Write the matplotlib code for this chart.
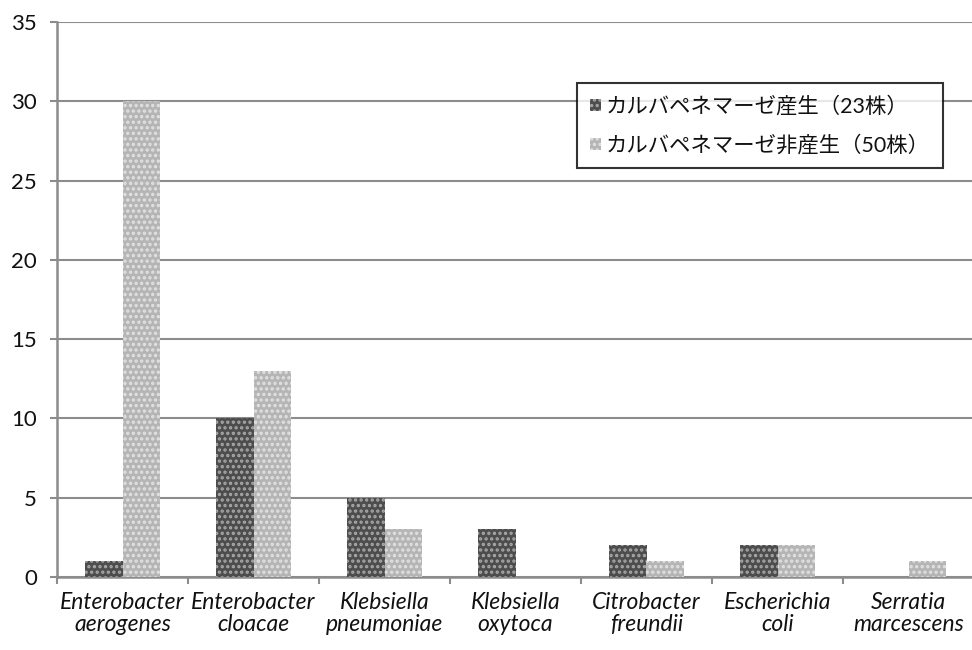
import matplotlib
matplotlib.use("Agg")
import matplotlib.pyplot as plt
import numpy as np
from matplotlib.ticker import FixedLocator, NullFormatter

plt.rcParams['font.family'] = ['Lato', 'Noto Sans CJK JP', 'DejaVu Sans']
plt.rcParams['hatch.linewidth'] = 1.6

categories = ["Enterobacter\naerogenes", "Enterobacter\ncloacae", "Klebsiella\npneumoniae",
              "Klebsiella\noxytoca", "Citrobacter\nfreundii", "Escherichia\ncoli",
              "Serratia\nmarcescens"]
producing = [1, 10, 5, 3, 2, 2, 0]
non_producing = [30, 13, 3, 0, 1, 2, 1]
series_labels = ["カルバペネマーゼ産生（23株）", "カルバペネマーゼ非産生（50株）"]
y_ticks = [0, 5, 10, 15, 20, 25, 30, 35]

fig = plt.figure(figsize=(9.72, 6.5), dpi=100)
ax = fig.add_axes([57/972, 1 - 577/650, (974 - 57)/972, (577 - 22)/650])

x = np.arange(len(categories))
w = 0.29
ax.bar(x - w/2, producing, width=w, color='#4d4d4d', edgecolor='#a8a8a8',
       hatch='...', linewidth=0, label=series_labels[0], zorder=3)
ax.bar(x + w/2, non_producing, width=w, color='#b5b5b5', edgecolor='#e2e2e2',
       hatch='...', linewidth=0, label=series_labels[1], zorder=3)

ax.set_xlim(-0.5, len(categories) - 0.5)
ax.set_ylim(0, 35)
ax.set_yticks(y_ticks)
ax.tick_params(axis='y', labelsize=16, length=5, width=1.5, color='#8c8c8c',
               pad=9.5, labelcolor='#111111')
ax.yaxis.grid(True, color='#8c8c8c', linewidth=1.5, zorder=0)

ax.set_xticks(x)
ax.set_xticklabels(categories, fontsize=16.5, style='italic', color='#111111',
                   linespacing=1.05)
ax.tick_params(axis='x', length=0, pad=11)
ax.xaxis.set_minor_locator(FixedLocator(np.arange(len(categories) + 1) - 0.5))
ax.xaxis.set_minor_formatter(NullFormatter())
ax.tick_params(axis='x', which='minor', length=5, width=1.5, color='#8c8c8c')

for s in ['top', 'right']:
    ax.spines[s].set_visible(False)
for s in ['left', 'bottom']:
    ax.spines[s].set_color('#8c8c8c')
    ax.spines[s].set_linewidth(1.8)

leg = ax.legend(loc='upper left', bbox_to_anchor=((577 - 57)/917, 1 - (83 - 22)/555),
                fontsize=15.4, frameon=True, fancybox=False, edgecolor='black',
                handlelength=0.5, handleheight=0.5, handletextpad=0.25,
                borderpad=0.6, labelspacing=0.85, borderaxespad=0)
leg.get_frame().set_linewidth(1.5)
leg.set_zorder(5)
for t in leg.get_texts():
    t.set_color('#111111')

fig.savefig("out.png", dpi=100)
